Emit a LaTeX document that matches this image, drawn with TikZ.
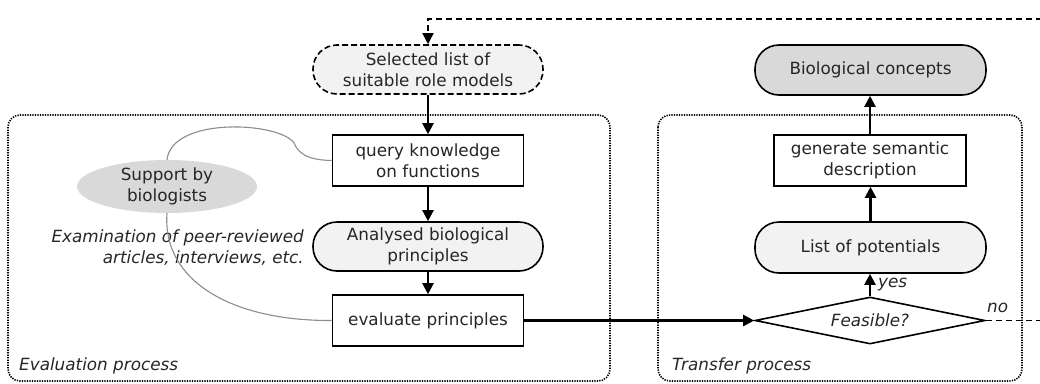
\documentclass[tikz,border=0pt]{standalone}
\usepackage{fontspec}
\setmainfont{DejaVu Sans}
\usetikzlibrary{arrows.meta,shapes.geometric}

\definecolor{txt}{HTML}{262626}
\definecolor{lightfill}{HTML}{F2F2F2}
\definecolor{darkfill}{HTML}{D9D9D9}
\definecolor{linkgray}{HTML}{8C8C8C}

\tikzset{
  basebox/.style={draw=black, line width=1.6pt, align=center, inner sep=0pt, text=txt},
  procbox/.style={basebox, rectangle, minimum width=191pt, minimum height=51pt},
  termbox/.style={basebox, rectangle, rounded corners=24pt, minimum width=230pt,
                  minimum height=49pt, fill=lightfill},
  flow/.style={line width=2.2pt, -{Triangle[length=11pt,width=11pt]}},
  feedback/.style={line width=1.5pt, dash pattern=on 6pt off 4pt,
                   -{Triangle[length=11pt,width=11pt]}},
  groupbox/.style={line width=1.6pt, dash pattern=on 1.3pt off 1.2pt, rounded corners=12pt},
  notetext/.style={text=txt, font=\fontsize{16.8}{21}\selectfont\itshape, inner sep=0pt},
  linkline/.style={draw=linkgray, line width=1.1pt}
}

\begin{document}
\begin{tikzpicture}[x=1pt, y=-1pt, font=\fontsize{16.8}{21}\selectfont]
\useasboundingbox (0,0) rectangle (1040,383);

% process groups
\draw[groupbox] (8,115) rectangle (610,381);
\draw[groupbox] (658,115) rectangle (1022,381);
\node[notetext, anchor=base west] (evalLabel) at (19,370) {Evaluation process};
\node[notetext, anchor=base west] (transLabel) at (672,370) {Transfer process};

% evaluation chain
\node[termbox, dashed, dash pattern=on 6pt off 3pt] (sel) at (428,69.5) {Selected list of\\suitable role models};
\node[procbox] (query) at (428,160.5) {query knowledge\\on functions};
\node[termbox] (anal) at (428,246.5) {Analysed biological\\principles};
\node[procbox] (eval) at (428,320.5) {evaluate principles};

% support by biologists
\node[ellipse, fill=darkfill, minimum width=180pt, minimum height=53pt, inner sep=0pt,
      align=center, text=txt] (bio) at (167,186.5) {Support by\\biologists};
\node[notetext, anchor=east, align=right] (exam) at (304,248) {Examination of peer-reviewed\\articles, interviews, etc.};

\draw[linkline] (query.west) .. controls (305,160) and (298,152) .. (294,143)
                 .. controls (280,122) and (172,116) .. (bio.north);
\draw[linkline] (bio.south) .. controls (162,280) and (230,321) .. (eval.west);

% transfer chain
\node[termbox, fill=darkfill, minimum width=231pt, minimum height=50pt] (concepts) at (870.5,70) {Biological concepts};
\node[procbox, minimum width=192pt] (gen) at (870,160.5) {generate semantic\\description};
\node[termbox, minimum width=231pt, minimum height=51pt] (pot) at (870.5,247.5) {List of potentials};
\node[basebox, diamond, aspect=4.9, minimum width=230pt, minimum height=47pt,
      font=\fontsize{16.8}{21}\selectfont\itshape] (feas) at (870,320.5) {Feasible?};

% main flow
\draw[flow] (sel.south) -- (sel.south |- query.north);
\draw[flow] (query.south) -- (query.south |- anal.north);
\draw[flow] (anal.south) -- (anal.south |- eval.north);
\draw[flow] (eval.east) -- (feas.west);
\draw[flow] (feas.north) -- (feas.north |- pot.south);
\draw[flow] (pot.north) -- (pot.north |- gen.south);
\draw[flow] (gen.north) -- (gen.north |- concepts.south);

\node[notetext, anchor=west] (yes) at (878,285) {yes};
\node[notetext, anchor=west] (no) at (987,308) {no};

% feedback loop, running along the right edge
\coordinate (fbA) at (1043,320.5);
\coordinate (fbB) at (1043,19);
\coordinate (fbC) at (428,19);
\draw[feedback] (feas.east) -- (fbA) -- (fbB) -- (fbC) -- (sel.north);
\end{tikzpicture}
\end{document}
